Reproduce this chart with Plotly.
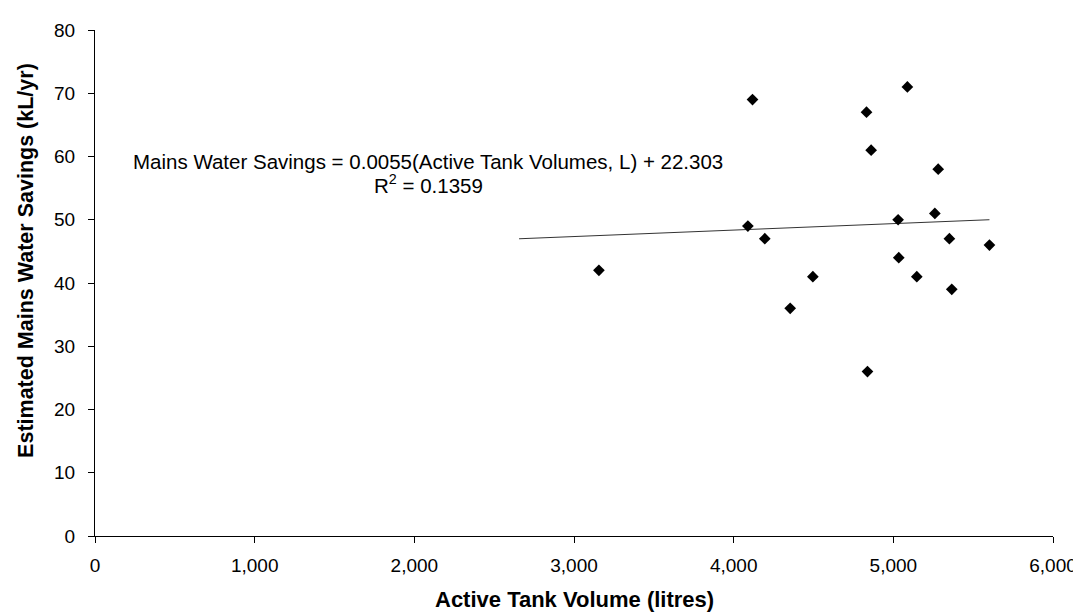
import numpy as np
import plotly.graph_objects as go

# active tank volume (litres) and estimated mains water savings (kL/yr)
tank_volume = [3156, 4118, 4089, 4195, 4354, 4496, 4832, 4861, 5088, 5030,
               5034, 5147, 5260, 5281, 5351, 5366, 5602, 4838]
water_savings = [42, 69, 49, 47, 36, 41, 67, 61, 71, 50,
                 44, 41, 51, 58, 47, 39, 46, 26]

x_ticks = [0, 1000, 2000, 3000, 4000, 5000, 6000]
y_ticks = [0, 10, 20, 30, 40, 50, 60, 70, 80]

x_title = "Active Tank Volume (litres)"
y_title = "Estimated Mains Water Savings (kL/yr)"
eq_text = "Mains Water Savings = 0.0055(Active Tank Volumes, L) + 22.303"
r2_text = "R<sup>2</sup> = 0.1359"

# linear trendline (excel style, forecast 500 L backwards)
slope, intercept = np.polyfit(tank_volume, water_savings, 1)
trend_x = np.array([min(tank_volume) - 500, max(tank_volume)])
trend_y = slope * trend_x + intercept

FONT = "Liberation Sans, Arial, sans-serif"

fig = go.Figure()
fig.add_trace(go.Scatter(x=trend_x, y=trend_y, mode="lines",
                         line=dict(color="#333333", width=1),
                         showlegend=False, hoverinfo="skip"))
fig.add_trace(go.Scatter(x=tank_volume, y=water_savings, mode="markers",
                         marker=dict(symbol="diamond", size=9, color="black"),
                         showlegend=False))

# trendline label, two lines centred on each other
fig.add_annotation(x=2087, y=59.2, xref="x", yref="y", text=eq_text,
                   showarrow=False, xanchor="center", yanchor="middle",
                   font=dict(family=FONT, size=20.5, color="black"))
fig.add_annotation(x=2087, y=55.6, xref="x", yref="y", text=r2_text,
                   showarrow=False, xanchor="center", yanchor="middle",
                   font=dict(family=FONT, size=20.5, color="black"))

# axis titles as annotations so they sit where the original has them
fig.add_annotation(x=0.5, y=-0.125, xref="paper", yref="paper",
                   text="<b>" + x_title + "</b>", showarrow=False,
                   xanchor="center", yanchor="middle",
                   font=dict(family=FONT, size=22, color="black"))
fig.add_annotation(x=-0.072, y=43.5, xref="paper", yref="y",
                   text="<b>" + y_title + "</b>", showarrow=False,
                   textangle=-90, xanchor="center", yanchor="middle",
                   font=dict(family=FONT, size=21.5, color="black"))

fig.update_xaxes(range=[0, 6000], tickvals=x_ticks, tickformat=",",
                 ticks="outside", ticklen=6, tickcolor="black",
                 ticklabelstandoff=6,
                 showline=True, linecolor="black", linewidth=1,
                 showgrid=False, zeroline=False,
                 tickfont=dict(family=FONT, size=19, color="black"))
fig.update_yaxes(range=[0, 80], tickvals=y_ticks,
                 ticks="outside", ticklen=6, tickcolor="black",
                 ticklabelstandoff=9,
                 showline=True, linecolor="black", linewidth=1,
                 showgrid=False, zeroline=False,
                 tickfont=dict(family=FONT, size=19, color="black"))

fig.update_layout(width=1081, height=612,
                  margin=dict(l=87, r=36, t=20, b=84),
                  plot_bgcolor="white", paper_bgcolor="white")

fig.write_html("out.html")
